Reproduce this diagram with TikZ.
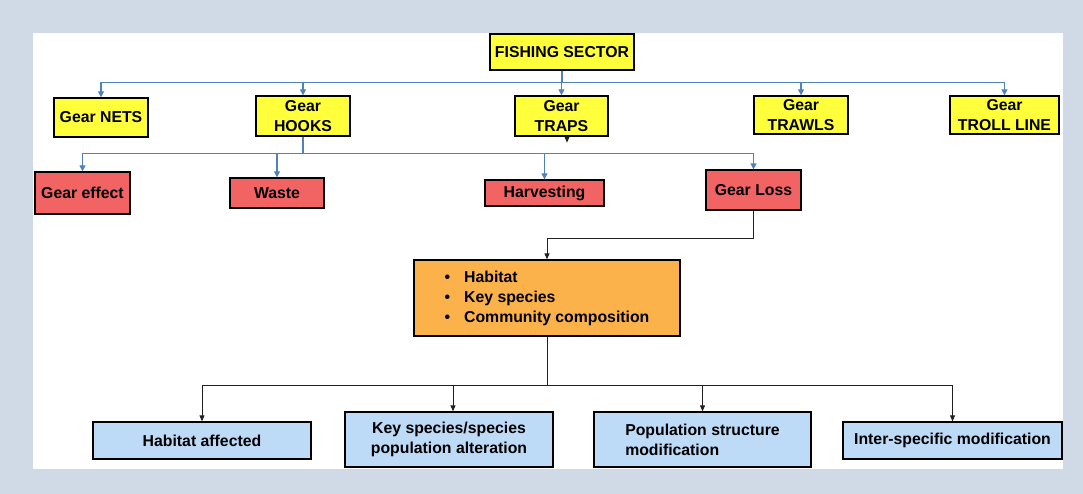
\documentclass[tikz,border=0pt]{standalone}
\usepackage{fontspec}
\setmainfont{Liberation Sans}
\usetikzlibrary{arrows.meta}
\definecolor{framebg}{HTML}{D0DAE6}
\definecolor{gearfill}{HTML}{FFFF3C}
\definecolor{effectfill}{HTML}{F26464}
\definecolor{impactfill}{HTML}{FBB24A}
\definecolor{resultfill}{HTML}{BDDAF7}
\definecolor{linkblue}{HTML}{4F81BD}
\definecolor{linkdark}{HTML}{202020}
\tikzset{
  box/.style={draw=black, line width=1.3pt, inner sep=0pt, align=center,
    font=\bfseries\fontsize{15.8}{20}\selectfont},
  gearbox/.style={box, fill=gearfill},
  effectbox/.style={box, fill=effectfill},
  impactbox/.style={box, fill=impactfill},
  resultbox/.style={box, fill=resultfill},
  bluelink/.style={draw=linkblue, line width=1.2pt},
  bluearrow/.style={bluelink, -{Triangle[length=6pt,width=6pt]}},
  darklink/.style={draw=linkdark, line width=0.9pt},
  darkarrow/.style={darklink, -{Triangle[length=6pt,width=5pt]}}
}
\begin{document}
\begin{tikzpicture}[x=1pt,y=-1pt]
% frame and panel
\fill[framebg] (0,0) rectangle (1083,494);
\fill[white] (33,33) rectangle (1063,469);
\useasboundingbox (0,0) rectangle (1083,494);

% sector and gear types
\node[gearbox, minimum width=144pt, minimum height=36pt] (fs) at (562,52) {FISHING SECTOR};
\node[gearbox, minimum width=94pt, minimum height=39pt] (nets) at (101,117.5) {Gear NETS};
\node[gearbox, minimum width=94pt, minimum height=40pt] (hooks) at (303,116) {Gear\\HOOKS};
\node[gearbox, minimum width=93pt, minimum height=40pt] (traps) at (561.5,116) {Gear\\TRAPS};
\node[gearbox, minimum width=94pt, minimum height=38pt] (trawls) at (801,115) {Gear\\TRAWLS};
\node[gearbox, minimum width=109pt, minimum height=38pt] (troll) at (1004.5,115) {Gear\\TROLL LINE};

% effects
\node[effectbox, minimum width=95pt, minimum height=42pt] (effect) at (82.5,193) {Gear effect};
\node[effectbox, minimum width=94pt, minimum height=30pt] (waste) at (277,193) {Waste};
\node[effectbox, minimum width=119pt, minimum height=26pt] (harvest) at (544.5,193) {Harvesting};
\node[effectbox, minimum width=95pt, minimum height=40pt] (loss) at (753.5,190) {Gear Loss};

% impacted components
\node[impactbox, minimum width=266pt, minimum height=76pt] (impact) at (547,298)
  {\begin{tabular}{@{}l@{\hspace{14pt}}l@{}}
   \textbullet & Habitat\\
   \textbullet & Key species\\
   \textbullet & Community composition
   \end{tabular}};

% consequences
\node[resultbox, minimum width=218pt, minimum height=37pt] (hab) at (202,440.5) {Habitat affected};
\node[resultbox, minimum width=208pt, minimum height=55pt] (key) at (449,439.5) {Key species/species\\population alteration};
\node[resultbox, minimum width=217pt, minimum height=55pt, align=left] (pop) at (702.5,439.5) {Population structure\\modification};
\node[resultbox, minimum width=219pt, minimum height=37pt] (inter) at (952.5,440.5) {Inter-specific modification};

% sector to gear types
\draw[bluelink] (fs.south) -- ++(0,12) coordinate (jsector);
\foreach \g in {nets,hooks,traps,trawls,troll}
  \draw[bluearrow] (jsector) -| (\g.north);

% hooks to effects
\draw[bluelink] (hooks.south) -- ++(0,17) coordinate (jhooks);
\foreach \e in {effect,waste,harvest,loss}
  \draw[bluearrow] (jhooks) -| (\e.north);
\draw[darkarrow] ([xshift=5.5pt]traps.south) -- ++(0,6) coordinate (trapsend);

% gear loss to impacts
\draw[darkarrow] (loss.south) -- ++(0,28) -| (impact.north);

% impacts to consequences
\draw[darklink] (impact.south) -- ++(0,49) coordinate (jimpact);
\draw[darkarrow] (jimpact) -| (hab.north);
\draw[darkarrow] (jimpact) -| ([xshift=4pt]key.north);
\draw[darkarrow] (jimpact) -| (pop.north);
\draw[darkarrow] (jimpact) -| (inter.north);
\end{tikzpicture}
\end{document}
